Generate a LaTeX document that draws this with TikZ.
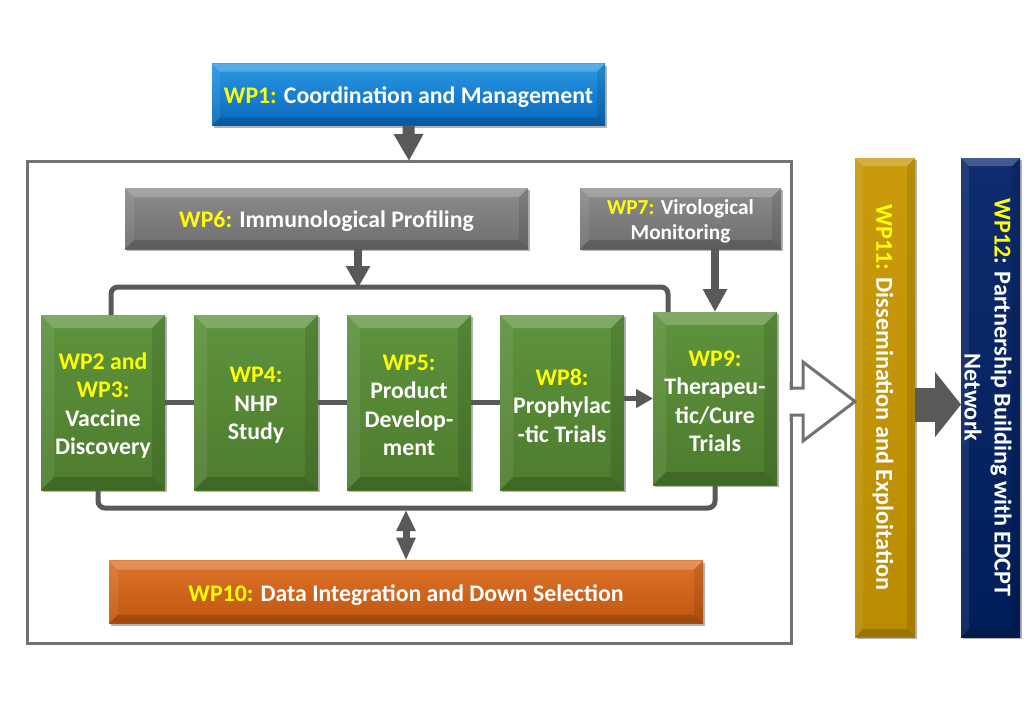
\documentclass[tikz,border=0pt]{standalone}
\usepackage{fontspec}
\setmainfont{Carlito}
\usetikzlibrary{arrows.meta,shadows,calc}
\definecolor{wpy}{HTML}{FFFF00}
\definecolor{cgray}{HTML}{595959}
\definecolor{fgray}{HTML}{767171}
\newcommand\Y[1]{\textcolor{wpy}{#1}}
\tikzset{
  bevel/.style={path picture={
    \fill[white,opacity=.22] (path picture bounding box.north west) -- (path picture bounding box.north east) -- ([shift={(-#1,-#1)}]path picture bounding box.north east) -- ([shift={(#1,-#1)}]path picture bounding box.north west) -- cycle;
    \fill[white,opacity=.08] (path picture bounding box.north west) -- ([shift={(#1,-#1)}]path picture bounding box.north west) -- ([shift={(#1,#1)}]path picture bounding box.south west) -- (path picture bounding box.south west) -- cycle;
    \fill[black,opacity=.10] (path picture bounding box.north east) -- ([shift={(-#1,-#1)}]path picture bounding box.north east) -- ([shift={(-#1,#1)}]path picture bounding box.south east) -- (path picture bounding box.south east) -- cycle;
    \fill[black,opacity=.16] (path picture bounding box.south west) -- ([shift={(#1,#1)}]path picture bounding box.south west) -- ([shift={(-#1,#1)}]path picture bounding box.south east) -- (path picture bounding box.south east) -- cycle;
  }},
  bevel/.default=9pt,
  wpbox/.style={inner sep=0pt, outer sep=0pt,
    drop shadow={shadow xshift=1.5pt, shadow yshift=-2pt, opacity=.3, fill=black}},
  boxtext/.style={inner sep=0pt, align=center, text=white, font=\fontsize{23.8}{28.5}\selectfont\bfseries},
  bluebox/.style={wpbox, top color=blue1, bottom color=blue2, bevel=8pt},
  graybox/.style={wpbox, top color=gray1, bottom color=gray2, bevel=9pt},
  greenbox/.style={wpbox, top color=green1, bottom color=green2, bevel=13pt, minimum width=124pt, minimum height=175pt},
  orangebox/.style={wpbox, top color=orange1, bottom color=orange2, bevel=9pt},
  goldbox/.style={wpbox, top color=gold1, bottom color=gold2, bevel=8pt},
  navybox/.style={wpbox, top color=navy1, bottom color=navy2, bevel=8pt},
  vtext/.style={rotate=-90, align=center, text=white, inner sep=0pt, font=\fontsize{24.2}{30}\selectfont\bfseries},
  conn/.style={draw=cgray, line width=5pt, rounded corners=7pt},
}
\definecolor{blue1}{HTML}{2A98E4}
\definecolor{blue2}{HTML}{0868BC}
\definecolor{gray1}{HTML}{8C8C8C}
\definecolor{gray2}{HTML}{6E6E6E}
\definecolor{green1}{HTML}{5E933D}
\definecolor{green2}{HTML}{4D7C2D}
\definecolor{orange1}{HTML}{DE742A}
\definecolor{orange2}{HTML}{C0560F}
\definecolor{gold1}{HTML}{C99B0C}
\definecolor{gold2}{HTML}{B98B00}
\definecolor{navy1}{HTML}{0E2C6E}
\definecolor{navy2}{HTML}{001E58}
\begin{document}
\begin{tikzpicture}[x=1pt,y=-1pt]
\useasboundingbox (0,0) rectangle (1036,715);

% outer frame
\node[draw=fgray, line width=3pt, inner sep=0pt, outer sep=0pt, minimum width=764pt, minimum height=482pt] (frame) at (409,402) {};

% boxes
\node[bluebox, minimum width=393pt, minimum height=62pt] (wp1) at (408.5,94.5) {};
\node[graybox, minimum width=403pt, minimum height=61pt] (wp6) at (326.5,218.5) {};
\node[graybox, minimum width=201pt, minimum height=61pt] (wp7) at (680.5,218.5) {};
\node[greenbox] (wp2) at (103,402.5) {};
\node[greenbox] (wp4) at (256,402.5) {};
\node[greenbox] (wp5) at (409,402.5) {};
\node[greenbox] (wp8) at (562,402.5) {};
\node[greenbox, minimum height=173pt] (wp9) at (715,398.5) {};
\node[orangebox, minimum width=594pt, minimum height=63pt] (wp10) at (406,592) {};
\node[goldbox, minimum width=60pt, minimum height=479pt] (wp11) at (885,397.5) {};
\node[navybox, minimum width=59pt, minimum height=479pt] (wp12) at (990.5,397.5) {};

% texts
\node[boxtext] (wp1t) at ([yshift=-3pt]wp1) {\Y{WP1:} Coordination and Management};
\node[boxtext] (wp6t) at ([yshift=-3pt]wp6) {\Y{WP6:} Immunological Profiling};
\node[boxtext, font=\fontsize{21.3}{25.5}\selectfont\bfseries] (wp7t) at ([yshift=-3pt]wp7) {\Y{WP7:} Virological\\Monitoring};
\node[boxtext] (wp2t) at ([yshift=-3pt]wp2) {\Y{WP2 and}\\\Y{WP3:}\\Vaccine\\Discovery};
\node[boxtext] (wp4t) at ([yshift=-3pt]wp4) {\Y{WP4:}\\NHP\\Study};
\node[boxtext] (wp5t) at ([yshift=-3pt]wp5) {\Y{WP5:}\\Product\\Develop-\\ment};
\node[boxtext] (wp8t) at ([yshift=-3pt]wp8) {\Y{WP8:}\\Prophylac\\-tic Trials};
\node[boxtext] (wp9t) at ([yshift=-3pt]wp9) {\Y{WP9:}\\Therapeu-\\tic/Cure\\Trials};
\node[boxtext] (wp10t) at ([yshift=-3pt]wp10) {\Y{WP10:} Data Integration and Down Selection};
\node[vtext] (wp11t) at ([xshift=-2pt]wp11) {\Y{WP11:} Dissemination and Exploitation};
\node[vtext] (wp12t) at ([xshift=-2.5pt]wp12) {\Y{WP12}: Partnership Building with EDCPT\\Network};

% arrows from WP1, WP6, WP7
\draw[draw=cgray, line width=12pt, -{Triangle[width=28pt,length=27pt]}] (wp1.south) -- (frame.north);
\coordinate (j6) at (358,287);
\draw[draw=cgray, line width=8pt, -{Triangle[width=23pt,length=22pt]}] (wp6.south -| j6) -- ([yshift=-1pt]j6);
\draw[draw=cgray, line width=8pt, -{Triangle[width=23pt,length=23pt]}] (wp7.south -| wp9.north) -- (wp9.north);

% top and bottom brackets
\draw[conn] ([xshift=8pt]wp2.north) |- (j6) -| ([xshift=-47pt]wp9.north);
\coordinate (jb) at (406,508);
\draw[conn] ([xshift=-5pt]wp2.south) |- (jb) -| (wp9.south);

% chain of work packages
\draw[conn] (wp2.east) -- (wp4.west);
\draw[conn] (wp4.east) -- (wp5.west);
\draw[conn] (wp5.east) -- (wp8.west);
\draw[conn, rounded corners=0pt, -{Triangle[width=18pt,length=17pt]}] (wp8.east |- wp9.west) -- (wp9.west);

% double arrow to WP10
\draw[draw=cgray, line width=7pt, {Triangle[width=18pt,length=21pt]}-{Triangle[width=18pt,length=23pt]}] ([yshift=-2pt]jb) -- (wp10.north -| jb);

% hollow arrow from frame to WP11
\coordinate (ht) at ([yshift=-4pt]wp11.west);
\fill[white] ($(frame.east |- ht)+(-3,-12)$) rectangle ($(ht)+(-50,12)$);
\draw[draw=fgray, line width=3pt, line join=miter]
  ($(frame.east |- ht)+(0,-20)$) -- ($(frame.east |- ht)+(0,-13.5)$) -- ($(ht)+(-52,-13.5)$) -- ($(ht)+(-52,-39.5)$) -- (ht)
  -- ($(ht)+(-52,39.5)$) -- ($(ht)+(-52,13.5)$) -- ($(frame.east |- ht)+(0,13.5)$) -- ($(frame.east |- ht)+(0,20)$);

% dark arrow WP11 -> WP12
\draw[draw=cgray, line width=34pt, -{Triangle[width=64pt,length=26pt]}] ([yshift=-7pt]wp11.east) -- ([yshift=-7pt]wp12.west);
\end{tikzpicture}
\end{document}
